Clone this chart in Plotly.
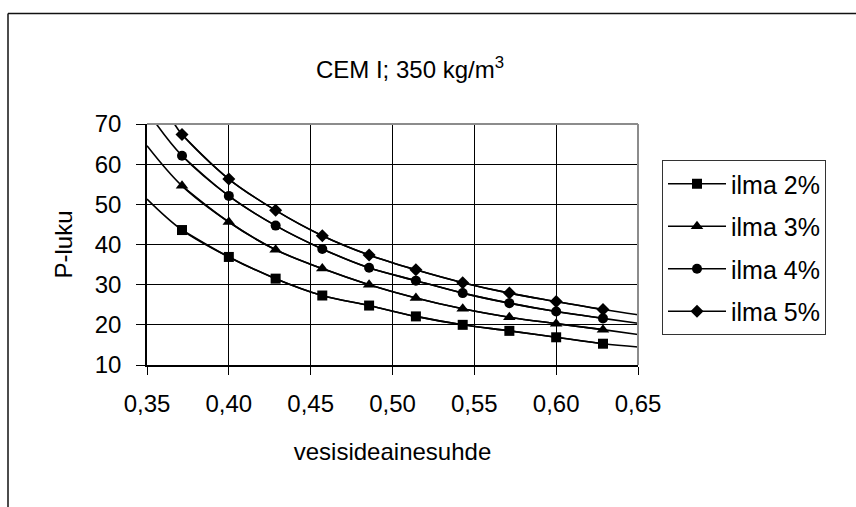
import plotly.graph_objects as go

# ---- data ----
w_c = [0.3714, 0.4000, 0.4286, 0.4571, 0.4857, 0.5143, 0.5429, 0.5714, 0.6000, 0.6286]
ilma_2 = [43.6, 36.9, 31.5, 27.3, 24.8, 22.1, 20.0, 18.5, 16.9, 15.3]
ilma_3 = [54.6, 45.6, 38.7, 34.0, 30.0, 26.7, 24.0, 21.9, 20.3, 18.8]
ilma_4 = [62.1, 52.1, 44.7, 38.9, 34.2, 31.0, 27.9, 25.4, 23.3, 21.6]
ilma_5 = [67.4, 56.3, 48.5, 42.2, 37.4, 33.7, 30.5, 27.9, 25.8, 23.8]
series_names = ["ilma 2%", "ilma 3%", "ilma 4%", "ilma 5%"]

# trend line end points (start at left edge / top edge, end at right edge)
trend_start_x = [0.350, 0.350, 0.3557, 0.3668]
trend_start_y = [51.3, 64.6, 70.0, 70.0]
trend_end_x = [0.650, 0.650, 0.650, 0.650]
trend_end_y = [14.5, 17.6, 20.4, 22.5]

x_ticks = [0.35, 0.40, 0.45, 0.50, 0.55, 0.60, 0.65]
y_ticks = [10, 20, 30, 40, 50, 60, 70]

# ---- style ----
FONT = "Liberation Sans, Arial, sans-serif"
W, H = 856, 507
L, R, T, B = 147, 218, 124, 142
PW, PH = W - L - R, H - T - B

def px_x(p):
    return (p - L) / PW

def px_y(p):
    return (H - B - p) / PH

symbols = ["square", "triangle-up", "circle", "diamond"]
sizes = [10, 11, 10, 10]
values = [ilma_2, ilma_3, ilma_4, ilma_5]

fig = go.Figure()
for i, name in enumerate(series_names):
    xs = [trend_start_x[i]] + w_c + [trend_end_x[i]]
    ys = [trend_start_y[i]] + values[i] + [trend_end_y[i]]
    fig.add_trace(go.Scatter(
        x=xs, y=ys, mode="lines", line=dict(color="black", width=1.6, shape="spline"),
        showlegend=False, hoverinfo="skip"))
    fig.add_trace(go.Scatter(
        x=w_c, y=values[i], mode="lines+markers", name=name, legendgroup=name,
        line=dict(color="black", width=1.6, shape="spline"),
        marker=dict(symbol=symbols[i], size=sizes[i], color="black")))

fig.update_layout(
    width=W, height=H,
    margin=dict(l=L, r=R, t=T, b=B, pad=0),
    paper_bgcolor="white", plot_bgcolor="white",
    separators=", ",
    font=dict(family=FONT, size=24, color="black"),
    title=dict(text="CEM I; 350 kg/m<sup>3</sup>", x=410 / W, xref="container", xanchor="center",
               y=1 - 70 / H, yref="container", yanchor="middle",
               font=dict(family=FONT, size=24, color="black")),
    legend=dict(x=px_x(662), y=px_y(160), xanchor="left", yanchor="top",
                bordercolor="#333333", borderwidth=1, bgcolor="white",
                font=dict(family=FONT, size=25, color="black"),
                tracegroupgap=7, itemwidth=58),
    showlegend=True,
)

fig.update_xaxes(
    range=[0.35, 0.65], tickvals=x_ticks, tickformat=".2f",
    showgrid=True, gridcolor="black", gridwidth=1,
    showline=True, linecolor="black", linewidth=1.5,
    ticks="outside", ticklen=8, tickcolor="black", tickwidth=1.2,
    ticklabelstandoff=8,
    title=dict(text="vesisideainesuhde", standoff=28, font=dict(family=FONT, size=24)),
    zeroline=False,
)
fig.update_yaxes(
    range=[10, 70], tickvals=y_ticks,
    showgrid=True, gridcolor="black", gridwidth=1,
    showline=True, linecolor="black", linewidth=1.5,
    ticks="outside", ticklen=9, tickcolor="black", tickwidth=1.2,
    ticklabelstandoff=10,
    title=dict(text="P-luku", standoff=15, font=dict(family=FONT, size=24)),
    zeroline=False,
)

# gray plot-area border (top and right)
fig.add_shape(type="line", xref="x domain", yref="y domain", x0=0, x1=1, y0=1, y1=1,
              line=dict(color="#8c8c8c", width=2), layer="above")
fig.add_shape(type="line", xref="x domain", yref="y domain", x0=1, x1=1, y0=0, y1=1,
              line=dict(color="#8c8c8c", width=2), layer="above")
# outer chart frame (top and left edges visible)
fig.add_shape(type="line", xref="paper", yref="paper", x0=px_x(8), x1=px_x(W + 2),
              y0=px_y(13.5), y1=px_y(13.5), line=dict(color="#111111", width=1.5))
fig.add_shape(type="line", xref="paper", yref="paper", x0=px_x(8), x1=px_x(8),
              y0=px_y(13.5), y1=px_y(H + 2), line=dict(color="#111111", width=1.5))

fig.write_html("out.html")
